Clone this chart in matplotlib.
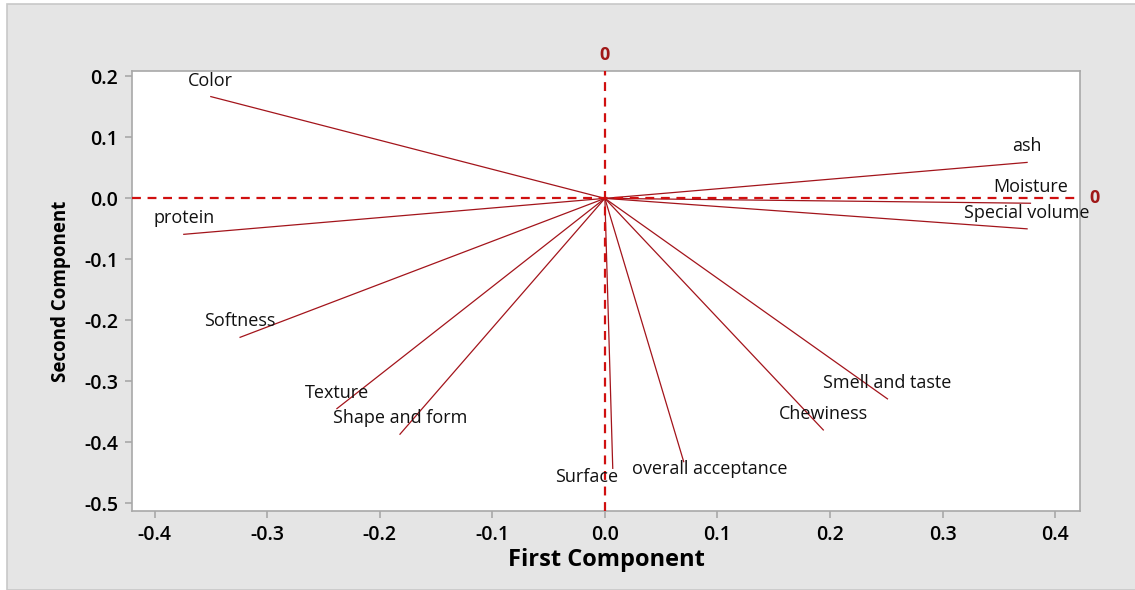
import matplotlib
matplotlib.use("Agg")
import matplotlib.pyplot as plt
from matplotlib.patches import Rectangle

# loadings on the first two principal components
variables = ["Color", "ash", "Moisture", "Special volume", "protein", "Softness",
             "Texture", "Shape and form", "Surface", "overall acceptance",
             "Chewiness", "Smell and taste"]
pc1 = [-0.350, 0.375, 0.378, 0.375, -0.374, -0.324,
       -0.238, -0.182, 0.007, 0.070, 0.194, 0.251]
pc2 = [0.167, 0.059, -0.008, -0.050, -0.059, -0.228,
       -0.345, -0.387, -0.443, -0.432, -0.380, -0.329]

x_ticks = [-0.4, -0.3, -0.2, -0.1, 0.0, 0.1, 0.2, 0.3, 0.4]
y_ticks = [0.2, 0.1, 0.0, -0.1, -0.2, -0.3, -0.4, -0.5]

font = ["Open Sans", "DejaVu Sans"]
line_col = "#a3141b"
ref_col = "#d01010"
grey = "#a8a8a8"

fig = plt.figure(figsize=(11.35, 5.9), dpi=100)
fig.patch.set_facecolor("white")
bg = Rectangle((7 / 1135, 0), 1, 1 - 4 / 590, transform=fig.transFigure,
               facecolor="#e5e5e5", edgecolor="#c8c8c8", lw=1.2, zorder=-10)
fig.add_artist(bg)

ax = fig.add_axes([132 / 1135, 1 - 511 / 590, (1080 - 132) / 1135, (511 - 71) / 590])
ax.set_zorder(1)
ax.set_facecolor("white")
ax.set_xlim(-0.42, 0.422)
ax.set_ylim(-0.513, 0.209)

for s in ax.spines.values():
    s.set_color(grey)
    s.set_linewidth(1.2)

# reference lines through the origin
ax.axhline(0, color=ref_col, ls=(0, (4, 3)), lw=1.6, zorder=3, clip_on=False)
ax.axvline(0, color=ref_col, ls=(0, (4, 3)), lw=1.6, zorder=3, clip_on=False)
ax.text(0, 1.015, "0", transform=ax.get_xaxis_transform(), ha="center", va="bottom",
        color="#a01818", fontsize=13, fontweight="bold", family=font)
ax.text(1.01, 0, "0", transform=ax.get_yaxis_transform(), ha="left", va="center",
        color="#a01818", fontsize=13, fontweight="bold", family=font)

# label offsets in pixels from the vector tip
offsets = {"Surface": (-26, -9), "overall acceptance": (26, -7)}

for name, x, y in zip(variables, pc1, pc2):
    ax.plot([0, x], [0, y], color=line_col, lw=0.9, zorder=2)
    dx, dy = offsets.get(name, (0, 16))
    ax.annotate(name, (x, y), xytext=(dx, dy), textcoords="offset pixels",
                ha="center", va="center", fontsize=13, family=font, color="#111111",
                zorder=4)

ax.set_xticks(x_ticks)
ax.set_xticklabels([f"{t:.1f}" for t in x_ticks])
ax.set_yticks(y_ticks)
ax.set_yticklabels([f"{t:.1f}" for t in y_ticks])
ax.tick_params(direction="out", length=5, width=1.2, color=grey, labelsize=14, pad=5)
for lbl in ax.get_xticklabels() + ax.get_yticklabels():
    lbl.set_family(font)
    lbl.set_fontweight("semibold")

ax.set_xlabel("First Component", fontsize=17, fontweight="bold", family=font, labelpad=2)
ax.set_ylabel("Second Component", fontsize=13.5, family=font,
              fontweight="bold", labelpad=9)

fig.savefig("out.png", dpi=100)
